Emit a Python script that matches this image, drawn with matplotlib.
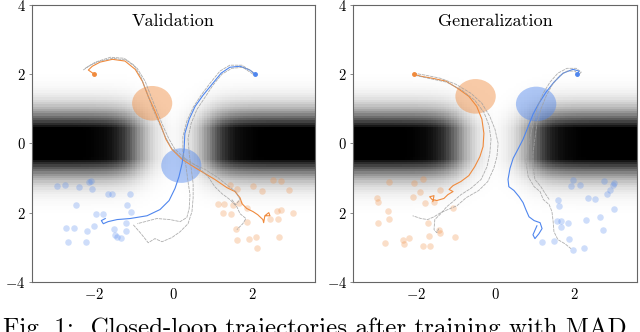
import numpy as np
import matplotlib
matplotlib.use("Agg")
import matplotlib.pyplot as plt
from matplotlib.patches import Ellipse

plt.rcParams["font.family"] = ["cmr10", "DejaVu Serif"]
plt.rcParams["mathtext.fontset"] = "cm"
plt.rcParams["axes.formatter.use_mathtext"] = True

BLUE = "#4f86ee"
ORANGE = "#f08a3c"
GRAY = "#a0a0a0"

titles = ["Validation", "Generalization"]
x_ticks = [-2, 0, 2]
x_tick_labels = ["$-2$", "$0$", "$2$"]
y_ticks = [-4, -2, 0, 2, 4]
y_tick_labels = ["$-4$", "$2$", "$0$", "$2$", "$4$"]
caption = "Fig. 1:  Closed-loop trajectories after training with MAD"

# --- Validation panel ---
val_orange_circle = (-0.53, 1.16)
val_blue_circle = (0.21, -0.64)

val_blue_pts_x = [-2.94, -2.75, -2.39, -2.14, -2.08, -2.05, -1.65, -1.54, -1.09, -2.46, -1.17, -1.96, -1.79,
                  -1.06, -2.71, -2.51, -2.18, -2.0, -1.49, -1.20, -1.19, -1.47, -1.41, -1.32, -2.67, -2.20]
val_blue_pts_y = [-1.23, -1.20, -1.26, -1.11, -1.08, -1.32, -1.45, -1.45, -1.45, -1.78, -1.78, -2.05, -2.03,
                  -1.97, -2.43, -2.45, -2.53, -2.40, -2.47, -2.53, -2.31, -2.65, -2.70, -2.72, -2.84, -2.86]
val_orange_pts_x = [1.44, 1.63, 2.02, 2.27, 2.54, 2.75, 2.95, 1.15, 1.29, 1.53, 1.68, 1.27, 1.47, 1.87, 2.65,
                    2.73, 3.05, 2.46, 2.67, 1.61, 1.87, 1.63, 1.93, 2.10, 2.69, 2.14]
val_orange_pts_y = [-1.20, -1.31, -1.23, -1.37, -1.05, -1.10, -1.34, -1.75, -1.75, -1.78, -1.73, -2.02, -2.04,
                    -1.87, -1.95, -1.92, -2.00, -2.18, -2.18, -2.46, -2.28, -2.79, -2.76, -2.71, -2.71, -3.03]

val_orange_x = [-2.00, -2.15, -2.05, -1.85, -1.54, -1.22, -0.96, -0.78, -0.63, -0.46, -0.30, -0.18, -0.03, 0.23,
                0.56, 0.81, 1.06, 1.37, 1.57, 1.70, 1.75, 1.87, 2.03, 2.15, 2.28, 2.30, 2.33, 2.43, 2.46, 2.35]
val_orange_y = [2.00, 2.12, 2.23, 2.35, 2.43, 2.38, 2.14, 1.80, 1.36, 0.93, 0.49, 0.12, -0.17, -0.46,
                -0.70, -0.87, -1.04, -1.28, -1.39, -1.57, -1.74, -1.88, -1.97, -2.06, -2.20, -2.29, -2.09,
                -2.00, -2.09, -2.09]
val_blue_x = [2.08, 1.95, 1.70, 1.44, 1.22, 0.99, 0.76, 0.56, 0.41, 0.30, 0.28, 0.23, 0.15, 0.05, -0.10,
              -0.33, -0.66, -1.09, -1.42, -1.65, -1.77, -1.82, -1.72]
val_blue_y = [2.00, 2.12, 2.23, 2.20, 2.03, 1.71, 1.39, 1.07, 0.70, 0.29, -0.17, -0.58, -0.96, -1.30, -1.65,
              -1.91, -2.09, -2.17, -2.20, -2.26, -2.32, -2.23, -2.17]

val_gray_1_x = [-2.28, -2.10, -1.85, -1.54, -1.19, -0.91, -0.71, -0.56, -0.41, -0.25, -0.10, 0.05, 0.30, 0.63,
                0.89, 1.06, 1.24, 1.44, 1.62, 1.70, 1.85, 1.77, 1.62]
val_gray_1_y = [2.12, 2.26, 2.38, 2.46, 2.41, 2.17, 1.80, 1.36, 0.93, 0.49, 0.12, -0.17, -0.43, -0.67,
                -0.96, -1.25, -1.45, -1.62, -1.83, -2.03, -2.17, -2.32, -2.49]
val_gray_2_x = [-2.23, -1.97, -1.59, -1.24, -0.99, -0.81, -0.66, -0.51, -0.35, -0.20, -0.05, 0.18, 0.48, 0.81,
                1.14, 1.39, 1.59, 1.70, 1.59, 1.49]
val_gray_2_y = [2.17, 2.35, 2.49, 2.46, 2.26, 1.91, 1.45, 0.99, 0.58, 0.20, -0.12, -0.38, -0.58, -0.75,
                -0.99, -1.22, -1.39, -1.62, -1.77, -1.62]
val_gray_3_x = [2.03, 1.75, 1.44, 1.19, 0.94, 0.71, 0.51, 0.35, 0.25, 0.25, 0.33, 0.38, 0.43, 0.41, 0.35,
                0.18, -0.08, -0.41, -0.71, -0.91]
val_gray_3_y = [2.06, 2.26, 2.26, 2.09, 1.74, 1.39, 1.04, 0.64, 0.20, -0.23, -0.67, -1.10, -1.48, -1.88,
                -2.14, -2.26, -2.20, -2.17, -2.26, -2.32]
val_gray_4_x = [2.03, 1.77, 1.49, 1.24, 1.01, 0.81, 0.61, 0.46, 0.38, 0.41, 0.46, 0.51, 0.51, 0.48, 0.38,
                0.18, -0.03, -0.28, -0.46, -0.63, -0.81, -1.01]
val_gray_4_y = [2.00, 2.20, 2.17, 2.00, 1.68, 1.33, 0.99, 0.58, 0.14, -0.29, -0.72, -1.16, -1.57, -1.97,
                -2.32, -2.55, -2.72, -2.84, -2.75, -2.87, -2.61, -2.35]

# --- Generalization panel ---
gen_orange_circle = (-0.49, 1.36)
gen_blue_circle = (1.04, 1.14)

gen_orange_pts_x = [-2.68, -2.04, -1.83, -2.99, -2.95, -2.07, -1.90, -1.38, -1.77, -1.55, -2.70, -2.69, -2.95,
                    -1.69, -1.41, -1.38, -1.66, -1.00, -2.17, -2.32, -2.30, -2.78, -1.82, -1.65, -1.07]
gen_orange_pts_y = [-1.12, -1.13, -1.03, -1.58, -1.68, -1.54, -1.41, -1.34, -1.73, -1.70, -1.95, -2.18, -2.31,
                    -2.31, -2.50, -2.58, -2.67, -2.70, -2.72, -2.79, -2.92, -2.89, -2.97, -2.97, -1.87]
gen_blue_pts_x = [1.97, 1.92, 2.15, 2.75, 3.00, 2.98, 2.90, 2.83, 2.36, 2.53, 1.59, 1.63, 3.02, 1.56, 1.67,
                  1.84, 1.67, 2.30, 2.66, 2.73, 1.18, 1.48, 1.88, 2.25, 1.98]
gen_blue_pts_y = [-1.05, -1.22, -1.20, -1.08, -1.13, -1.20, -1.34, -1.46, -1.57, -1.60, -1.63, -1.80, -1.90,
                  -2.24, -2.24, -2.31, -2.41, -2.21, -2.12, -2.51, -2.84, -2.81, -2.77, -3.01, -3.08]

gen_orange_x = [-2.05, -1.87, -1.57, -1.24, -0.94, -0.66, -0.46, -0.33, -0.28, -0.30, -0.38, -0.51, -0.66,
                -0.86, -1.06, -1.16, -1.06, -1.19, -1.29, -1.47, -1.59, -1.65, -1.54, -1.57]
gen_orange_y = [2.00, 1.94, 1.88, 1.80, 1.59, 1.36, 1.07, 0.70, 0.29, -0.09, -0.38, -0.67, -0.93, -1.10,
                -1.22, -1.33, -1.39, -1.48, -1.59, -1.65, -1.62, -1.54, -1.51, -1.68]
gen_blue_x = [2.08, 2.13, 1.97, 1.72, 1.49, 1.29, 1.11, 0.96, 0.84, 0.71, 0.58, 0.46, 0.38, 0.33, 0.35, 0.48,
              0.61, 0.71, 0.78, 0.86, 0.99, 1.14, 1.19, 1.11, 1.01, 0.96, 1.06]
gen_blue_y = [2.00, 2.09, 2.14, 2.03, 1.77, 1.48, 1.16, 0.84, 0.49, 0.12, -0.17, -0.43, -0.72, -1.04, -1.25,
              -1.36, -1.54, -1.71, -1.91, -2.12, -2.23, -2.29, -2.46, -2.61, -2.75, -2.64, -2.38]

gen_gray_1_x = [-2.05, -1.75, -1.37, -0.99, -0.61, -0.33, -0.13, 0.00, 0.08, 0.05, -0.03, -0.18, -0.41, -0.73,
                -0.96, -1.19, -1.37, -1.54, -1.70, -1.87, -2.08]
gen_gray_1_y = [2.03, 1.97, 1.88, 1.71, 1.45, 1.16, 0.78, 0.41, 0.00, -0.38, -0.72, -1.10, -1.36, -1.57,
                -1.80, -1.91, -2.00, -2.12, -2.20, -2.17, -2.09]
gen_gray_2_x = [-2.03, -1.67, -1.22, -0.84, -0.51, -0.28, -0.15, -0.10, -0.13, -0.20, -0.35, -0.61, -0.86,
                -1.06, -1.22, -1.37, -1.52, -1.54, -1.47, -1.42]
gen_gray_2_y = [1.97, 1.88, 1.77, 1.54, 1.25, 0.90, 0.52, 0.12, -0.29, -0.67, -1.04, -1.30, -1.48, -1.68,
                -1.83, -2.03, -2.20, -2.49, -2.58, -2.46]
gen_gray_3_x = [2.13, 2.18, 2.05, 1.82, 1.59, 1.39, 1.22, 1.09, 0.99, 0.91, 0.84, 0.78, 0.84, 0.99, 1.14, 1.22,
                1.37, 1.44, 1.47, 1.49, 1.59, 1.77, 1.92]
gen_gray_3_y = [2.00, 2.06, 2.17, 2.17, 2.03, 1.77, 1.45, 1.10, 0.70, 0.29, -0.14, -0.52, -0.96, -1.25, -1.39,
                -1.62, -1.77, -1.97, -2.26, -2.55, -2.78, -2.90, -3.04]
gen_gray_4_x = [2.10, 2.03, 1.82, 1.62, 1.44, 1.29, 1.16, 1.06, 1.01, 0.96, 0.96, 1.01, 1.16, 1.27, 1.37]
gen_gray_4_y = [1.94, 2.09, 2.09, 1.94, 1.68, 1.36, 0.99, 0.58, 0.14, -0.29, -0.67, -1.04, -1.25, -1.45, -1.62]

XLIM = (-3.58, 3.6)
YLIM = (-4, 4)


def obstacle_field():
    # two walls along y=0 with a gap around x=0
    xs = np.linspace(XLIM[0], XLIM[1], 110)
    ys = np.linspace(YLIM[0], YLIM[1], 120)
    X, Y = np.meshgrid(xs, ys)
    band = np.clip(1.3 * np.exp(-Y ** 2 / (2 * 0.6 ** 2)), 0, 1)
    walls = 1 / (1 + np.exp(-(np.abs(X) - 0.95) / 0.26))
    return band * walls


def draw_panel(ax, title, circles, pts, agents, grays):
    ax.imshow(obstacle_field(), cmap="gray_r", vmin=0, vmax=1, origin="lower",
              extent=(XLIM[0], XLIM[1], YLIM[0], YLIM[1]), aspect="auto",
              interpolation="nearest", zorder=0)
    for (cx, cy), color in zip(circles, [ORANGE, BLUE]):
        ax.add_patch(Ellipse((cx, cy), 1.02, 1.0, color=color, alpha=0.45, lw=0, zorder=2))
    for (px, py), color in zip(pts, [BLUE, ORANGE]):
        ax.scatter(px, py, s=22, color=color, alpha=0.28, lw=0, zorder=2)
    for (lx, ly), color in zip(agents, [ORANGE, BLUE]):
        ax.plot(lx, ly, color=color, lw=0.8, zorder=3)
        ax.plot(lx[0], ly[0], marker="o", ms=2.5, color=color, zorder=5)
    for gx, gy in grays:
        ax.plot(gx, gy, color=GRAY, lw=0.6, ls=(0, (4, 1)), alpha=0.85, zorder=4)
    ax.set_xlim(XLIM)
    ax.set_ylim(YLIM)
    ax.set_xticks(x_ticks)
    ax.set_xticklabels(x_tick_labels)
    ax.set_yticks(y_ticks)
    ax.set_yticklabels(y_tick_labels)
    ax.tick_params(axis="x", length=0, labelsize=10.5, pad=4)
    ax.tick_params(axis="y", length=2.5, width=0.6, color="#777777", labelsize=10.5, pad=2)
    for s in ax.spines.values():
        s.set_color("#666666")
        s.set_linewidth(0.8)
    ax.text(0.5, 0.94, title, transform=ax.transAxes, ha="center", va="center", fontsize=13)


fig = plt.figure(figsize=(6.4, 3.32), dpi=100)
ax1 = fig.add_axes([0.05, 0.151, 0.442, 0.834])
ax2 = fig.add_axes([0.552, 0.151, 0.444, 0.834])

draw_panel(ax1, titles[0], [val_orange_circle, val_blue_circle],
           [(val_blue_pts_x, val_blue_pts_y), (val_orange_pts_x, val_orange_pts_y)],
           [(val_orange_x, val_orange_y), (val_blue_x, val_blue_y)],
           [(val_gray_1_x, val_gray_1_y), (val_gray_2_x, val_gray_2_y),
            (val_gray_3_x, val_gray_3_y), (val_gray_4_x, val_gray_4_y)])
draw_panel(ax2, titles[1], [gen_orange_circle, gen_blue_circle],
           [(gen_blue_pts_x, gen_blue_pts_y), (gen_orange_pts_x, gen_orange_pts_y)],
           [(gen_orange_x, gen_orange_y), (gen_blue_x, gen_blue_y)],
           [(gen_gray_1_x, gen_gray_1_y), (gen_gray_2_x, gen_gray_2_y),
            (gen_gray_3_x, gen_gray_3_y), (gen_gray_4_x, gen_gray_4_y)])

fig.text(0.005, 0.045, caption, ha="left", va="top", fontsize=18)

fig.savefig("out.png", dpi=100)
